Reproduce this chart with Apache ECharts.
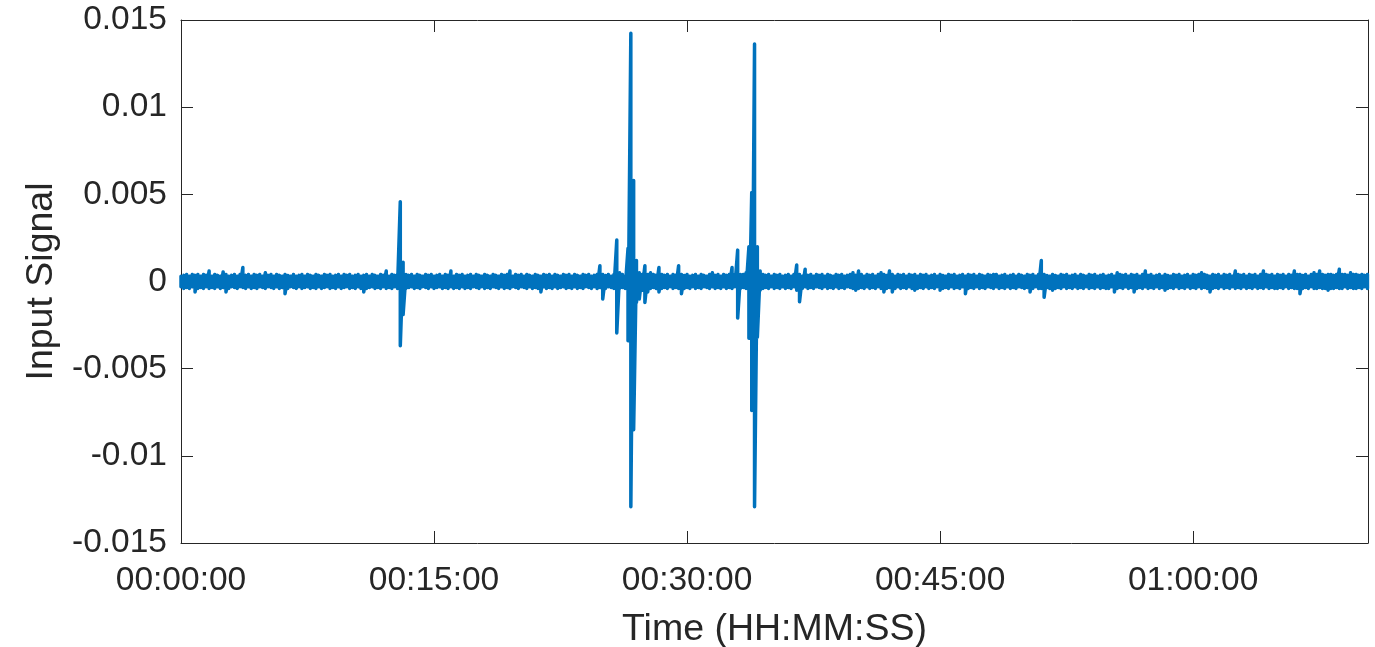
<!DOCTYPE html>
<html>
<head>
<meta charset="utf-8">
<script src="https://cdn.jsdelivr.net/npm/echarts@6/dist/echarts.min.js"></script>
<style>
html,body{margin:0;padding:0;background:#fff;}
#chart{width:1375px;height:647px;}
</style>
</head>
<body>
<div id="chart"></div>
<script>
// Sample clock: one envelope bin every 10 s, starting at 00:00:00
var binStepSec = 10;
var xMaxSec = 4222;
var xTickSec = 900;
var yTicks = [-0.015, -0.01, -0.005, 0, 0.005, 0.01, 0.015];

// Upper envelope of the input signal in each 10-s bin
var signalHigh = [
 0.0003,0.00035,0.0004,0.0003,0.0004,0.00035,0.0004,0.0003,0.0004,0.00035,
 0.0006,0.0003,0.0004,0.00035,0.0003,0.00055,0.0004,0.0003,0.00035,0.0004,
 0.0003,0.0004,0.0008,0.00035,0.0004,0.0003,0.0004,0.00035,0.0004,0.0003,
 0.0005,0.00035,0.0004,0.0003,0.0004,0.00035,0.0003,0.0004,0.00035,0.0003,
 0.0004,0.0003,0.00035,0.0004,0.0003,0.0004,0.00035,0.0003,0.0004,0.00035,
 0.0003,0.0004,0.00035,0.0004,0.0003,0.00035,0.0004,0.0003,0.0004,0.00035,
 0.0004,0.0003,0.00035,0.0004,0.0003,0.00035,0.0004,0.0003,0.0004,0.00035,
 0.0003,0.0004,0.00035,0.0006,0.0003,0.0004,0.00035,0.0004,0.00458,0.0011,
 0.0004,0.00035,0.0004,0.0003,0.0004,0.00035,0.0003,0.0004,0.00035,0.0004,
 0.0003,0.00035,0.0004,0.0003,0.0004,0.00035,0.0006,0.0003,0.0004,0.00035,
 0.0004,0.0003,0.00035,0.0004,0.0003,0.0004,0.00035,0.0003,0.0004,0.00035,
 0.0003,0.0004,0.00035,0.0003,0.0004,0.00035,0.0004,0.0006,0.0003,0.0004,
 0.00035,0.0004,0.0003,0.0004,0.00035,0.0003,0.0004,0.00035,0.0003,0.0004,
 0.00035,0.0004,0.0003,0.0004,0.00035,0.0003,0.0004,0.00035,0.0004,0.0003,
 0.0004,0.00035,0.0003,0.0004,0.00035,0.0004,0.0003,0.00035,0.0004,0.0009,
 0.0004,0.00035,0.0004,0.0003,0.0004,0.00238,0.0005,0.0004,0.0003,0.0019,
 0.01424,0.0058,0.0012,0.0005,0.0004,0.0009,0.0004,0.0005,0.0004,0.00035,
 0.0008,0.0004,0.00035,0.0004,0.0003,0.0004,0.00035,0.0009,0.0004,0.00035,
 0.0004,0.0003,0.00035,0.0004,0.0003,0.0004,0.00035,0.0003,0.0004,0.0005,
 0.00035,0.0004,0.0003,0.0004,0.00035,0.0004,0.0008,0.0004,0.0018,0.0004,
 0.0004,0.0005,0.002,0.0051,0.01362,0.002,0.0006,0.0004,0.00035,0.0004,
 0.0003,0.0004,0.00035,0.0004,0.0003,0.00035,0.0004,0.0003,0.0004,0.00095,
 0.0004,0.0003,0.0007,0.00035,0.0004,0.0003,0.0004,0.00035,0.0004,0.0003,
 0.0004,0.00035,0.0003,0.0004,0.00035,0.0004,0.0003,0.00035,0.0004,0.0005,
 0.00035,0.0006,0.0004,0.0003,0.0004,0.00035,0.0004,0.0003,0.0004,0.0005,
 0.0004,0.00035,0.0006,0.0004,0.0003,0.0004,0.00035,0.0004,0.0003,0.0004,
 0.00035,0.0004,0.0003,0.0004,0.00035,0.0004,0.0003,0.00035,0.0004,0.0003,
 0.0004,0.00035,0.0003,0.0004,0.00035,0.0004,0.0003,0.00035,0.0004,0.0003,
 0.0004,0.00035,0.0004,0.0003,0.0004,0.00035,0.0003,0.0004,0.00035,0.0004,
 0.0004,0.0003,0.00035,0.0004,0.0003,0.00035,0.0004,0.0003,0.0004,0.00035,
 0.0003,0.0004,0.00035,0.0004,0.0003,0.0004,0.0012,0.0004,0.00035,0.0003,
 0.0004,0.00035,0.0003,0.0004,0.00035,0.0004,0.0003,0.00035,0.0004,0.0003,
 0.0004,0.00035,0.0003,0.0004,0.00035,0.0004,0.0003,0.00035,0.0004,0.0003,
 0.00035,0.0004,0.0003,0.0005,0.0004,0.00035,0.0004,0.0003,0.0004,0.00035,
 0.0004,0.0003,0.0004,0.0006,0.00035,0.0004,0.0003,0.00035,0.0004,0.0003,
 0.0004,0.00035,0.0003,0.0004,0.00035,0.0004,0.0003,0.00035,0.0004,0.0003,
 0.0004,0.00035,0.0004,0.0005,0.0004,0.00035,0.0003,0.0004,0.00035,0.0004,
 0.0003,0.0004,0.00035,0.0004,0.0003,0.0006,0.0004,0.00035,0.0004,0.0003,
 0.0004,0.00035,0.0004,0.0003,0.0004,0.0006,0.0004,0.00035,0.0004,0.0003,
 0.0004,0.00035,0.0004,0.0003,0.0004,0.00035,0.0006,0.0004,0.0004,0.00035,
 0.0004,0.0003,0.0004,0.0005,0.0004,0.0006,0.0004,0.00035,0.0004,0.0004,
 0.00035,0.0004,0.0007,0.0004,0.0004,0.00035,0.0005,0.0004,0.0004,0.00035,
 0.0004,0.00035,0.0004
];

// Lower envelope of the input signal in each 10-s bin
var signalLow = [
 -0.0003,-0.0004,-0.00035,-0.0004,-0.0003,-0.0006,-0.0004,-0.00035,-0.0004,-0.0003,
 -0.0004,-0.00035,-0.0004,-0.0003,-0.0004,-0.00035,-0.0006,-0.0004,-0.0003,-0.00035,
 -0.0004,-0.0003,-0.00035,-0.0004,-0.0003,-0.0004,-0.00035,-0.0004,-0.0003,-0.00035,
 -0.0004,-0.0003,-0.00035,-0.0004,-0.0003,-0.0004,-0.00035,-0.0007,-0.0004,-0.0003,
 -0.00035,-0.0004,-0.0003,-0.0004,-0.00035,-0.0003,-0.0004,-0.00035,-0.0004,-0.0003,
 -0.0004,-0.00035,-0.0003,-0.0004,-0.00035,-0.0004,-0.0003,-0.0004,-0.00035,-0.0003,
 -0.0004,-0.00035,-0.0004,-0.0003,-0.0004,-0.0006,-0.0004,-0.00035,-0.0003,-0.0004,
 -0.00035,-0.0004,-0.0003,-0.0004,-0.00035,-0.0004,-0.0003,-0.0004,-0.00368,-0.0019,
 -0.0004,-0.00035,-0.0003,-0.0004,-0.00035,-0.0004,-0.0003,-0.00035,-0.0004,-0.0003,
 -0.0004,-0.00035,-0.0003,-0.0004,-0.00035,-0.0004,-0.0003,-0.0004,-0.00035,-0.0004,
 -0.0003,-0.0004,-0.00035,-0.0004,-0.0003,-0.00035,-0.0004,-0.0003,-0.0004,-0.00035,
 -0.0004,-0.0003,-0.00035,-0.0004,-0.0003,-0.0004,-0.00035,-0.0004,-0.0003,-0.00035,
 -0.0004,-0.0003,-0.00035,-0.0004,-0.0003,-0.0004,-0.00035,-0.0004,-0.0006,-0.0003,
 -0.0004,-0.00035,-0.0004,-0.0003,-0.0004,-0.00035,-0.0003,-0.0004,-0.00035,-0.0004,
 -0.0003,-0.0004,-0.00035,-0.0004,-0.0003,-0.00035,-0.0004,-0.0003,-0.0004,-0.00035,
 -0.001,-0.0004,-0.0003,-0.00035,-0.0004,-0.00295,-0.0004,-0.00035,-0.0004,-0.0034,
 -0.01292,-0.0085,-0.0012,-0.001,-0.0005,-0.0012,-0.0006,-0.0004,-0.00035,-0.0004,
 -0.0006,-0.0004,-0.00035,-0.0004,-0.0003,-0.0004,-0.00035,-0.0004,-0.0007,-0.0004,
 -0.00035,-0.0004,-0.0003,-0.0004,-0.00035,-0.0004,-0.0003,-0.00035,-0.0004,-0.0003,
 -0.0004,-0.00035,-0.0004,-0.0003,-0.0004,-0.00035,-0.0004,-0.0003,-0.0021,-0.0004,
 -0.00035,-0.0004,-0.00325,-0.0074,-0.01292,-0.0032,-0.0005,-0.0004,-0.00035,-0.0004,
 -0.0003,-0.0004,-0.00035,-0.0004,-0.0003,-0.0004,-0.00035,-0.0004,-0.0003,-0.0005,
 -0.00116,-0.0004,-0.0003,-0.0004,-0.00035,-0.0004,-0.0003,-0.00035,-0.0004,-0.0003,
 -0.0004,-0.00035,-0.0004,-0.0003,-0.0004,-0.00035,-0.0004,-0.0003,-0.00035,-0.0004,
 -0.0005,-0.0004,-0.00035,-0.0004,-0.0003,-0.0004,-0.00035,-0.0004,-0.0003,-0.0004,
 -0.0006,-0.0004,-0.00035,-0.0006,-0.0004,-0.0003,-0.0004,-0.00035,-0.0004,-0.0003,
 -0.0004,-0.0005,-0.0004,-0.00035,-0.0004,-0.0003,-0.0004,-0.00035,-0.0004,-0.0003,
 -0.0005,-0.0004,-0.00035,-0.0004,-0.0003,-0.0004,-0.00035,-0.0004,-0.0003,-0.0007,
 -0.0004,-0.00035,-0.0004,-0.0003,-0.0004,-0.00035,-0.0004,-0.0003,-0.00035,-0.0004,
 -0.0003,-0.0004,-0.00035,-0.0004,-0.0003,-0.0004,-0.00035,-0.0004,-0.0003,-0.00035,
 -0.0004,-0.00035,-0.0006,-0.0004,-0.0003,-0.0004,-0.0004,-0.0009,-0.00035,-0.0004,
 -0.0005,-0.0004,-0.00035,-0.0004,-0.0003,-0.0004,-0.00035,-0.0004,-0.0003,-0.0004,
 -0.00035,-0.0004,-0.0003,-0.0004,-0.00035,-0.0004,-0.0003,-0.0004,-0.00035,-0.0004,
 -0.0004,-0.0003,-0.0006,-0.0004,-0.00035,-0.0004,-0.0003,-0.0004,-0.00035,-0.0006,
 -0.0004,-0.00035,-0.0004,-0.0003,-0.0004,-0.00035,-0.0004,-0.0003,-0.0004,-0.00035,
 -0.0005,-0.0004,-0.00035,-0.0004,-0.0003,-0.0004,-0.00035,-0.0004,-0.0003,-0.0004,
 -0.00035,-0.0004,-0.0003,-0.0004,-0.00035,-0.0004,-0.0006,-0.0004,-0.00035,-0.0004,
 -0.0003,-0.0004,-0.00035,-0.0004,-0.0003,-0.0004,-0.00035,-0.0004,-0.0003,-0.0004,
 -0.00035,-0.0004,-0.0003,-0.0004,-0.00035,-0.0004,-0.0003,-0.0004,-0.00035,-0.0004,
 -0.0004,-0.00035,-0.0004,-0.0003,-0.0004,-0.00035,-0.0004,-0.0004,-0.0007,-0.0004,
 -0.00035,-0.0004,-0.0003,-0.0004,-0.0004,-0.00035,-0.0004,-0.0004,-0.0005,-0.0004,
 -0.0004,-0.00035,-0.0004,-0.0004,-0.0003,-0.0004,-0.00035,-0.0004,-0.0004,-0.00035,
 -0.0004,-0.0003,-0.0004
];

// Each bin is drawn as a vertical stroke from its high to its low value
var seriesData = [];
var nBins = Math.min(signalHigh.length, signalLow.length);
for (var i = 0; i < nBins; i++) {
  seriesData.push([i * binStepSec, signalHigh[i]]);
  seriesData.push([i * binStepSec, signalLow[i]]);
}

function pad(n) { return (n < 10 ? '0' : '') + n; }
function hms(sec) {
  var h = Math.floor(sec / 3600), m = Math.floor((sec % 3600) / 60), s = Math.round(sec % 60);
  return pad(h) + ':' + pad(m) + ':' + pad(s);
}
function yLabel(v) {
  var best = null;
  yTicks.forEach(function (t) { if (Math.abs(t - v) < 1e-9) best = t; });
  return best === null ? '' : String(best);
}

var txt = '#262626';
var font = 'Liberation Sans, Arial, Helvetica, sans-serif';
var axisLine = { show: true, onZero: false, lineStyle: { color: txt, width: 1 } };
var tick = { show: true, inside: true, length: 12, lineStyle: { color: txt, width: 1 } };

var chart = echarts.init(document.getElementById('chart'), null, { renderer: 'canvas' });
chart.setOption({
  animation: false,
  backgroundColor: '#ffffff',
  grid: { left: 181, right: 7, top: 20, bottom: 104, containLabel: false, outerBoundsMode: 'none' },
  xAxis: [{
    type: 'value', position: 'bottom', min: 0, max: xMaxSec, interval: xTickSec,
    axisLine: axisLine, axisTick: tick, splitLine: { show: false },
    axisLabel: {
      show: true, color: txt, fontFamily: font, fontSize: 33.5, margin: 21, showMaxLabel: false,
      formatter: function (v) { return (v % xTickSec === 0) ? hms(v) : ''; }
    },
    name: 'Time (HH:MM:SS)', nameLocation: 'middle', nameGap: 68,
    nameTextStyle: { color: txt, fontFamily: font, fontSize: 37.5 }
  }, {
    type: 'value', position: 'top', min: 0, max: xMaxSec, interval: xTickSec,
    axisLine: axisLine, axisTick: tick, splitLine: { show: false }, axisLabel: { show: false }
  }],
  yAxis: [{
    type: 'value', position: 'left', min: -0.015, max: 0.015, interval: 0.005,
    axisLine: axisLine, axisTick: tick, splitLine: { show: false },
    axisLabel: { show: true, color: txt, fontFamily: font, fontSize: 33.5, margin: 14, formatter: yLabel },
    name: 'Input Signal', nameLocation: 'middle', nameGap: 117, nameRotate: 90,
    nameTextStyle: { color: txt, fontFamily: font, fontSize: 37.5 }
  }, {
    type: 'value', position: 'right', min: -0.015, max: 0.015, interval: 0.005,
    axisLine: axisLine, axisTick: tick, splitLine: { show: false }, axisLabel: { show: false }
  }],
  series: [{
    type: 'line', xAxisIndex: 0, yAxisIndex: 0, data: seriesData,
    showSymbol: false, symbol: 'none', sampling: null,
    lineStyle: { color: '#0072BD', width: 3.5, join: 'round', cap: 'round' },
    emphasis: { disabled: true }
  }]
});
</script>
</body>
</html>
